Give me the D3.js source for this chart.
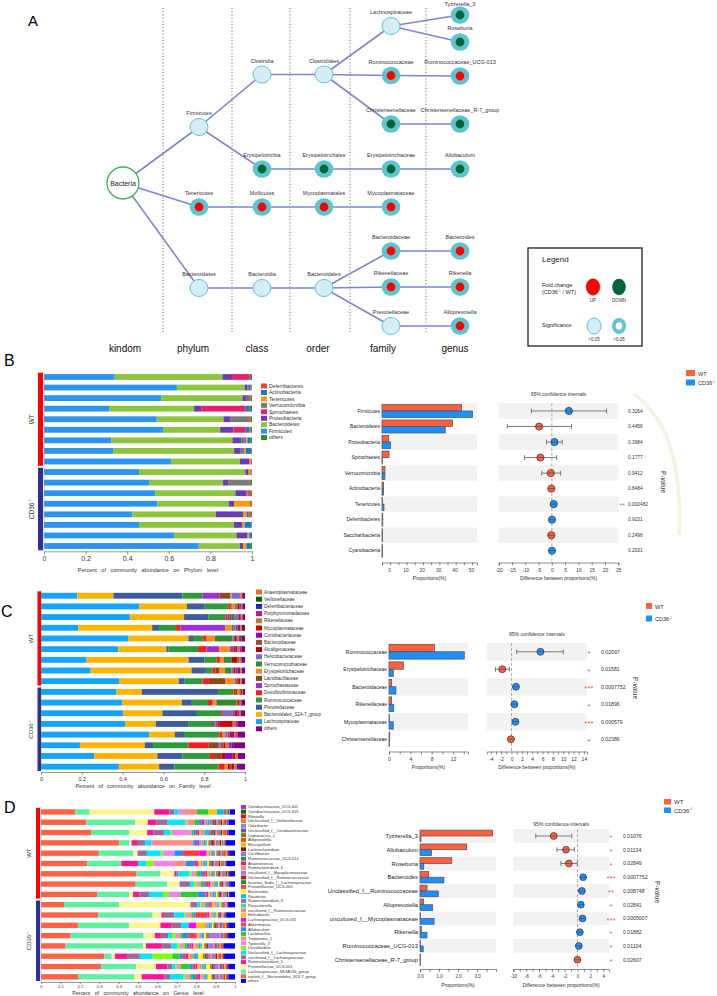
<!DOCTYPE html>
<html><head><meta charset="utf-8">
<script src="https://cdn.jsdelivr.net/npm/d3@7"></script>
<style>body{margin:0;background:#fff}svg{display:block;font-family:"Liberation Sans",Arial,Helvetica,sans-serif}</style>
</head><body><svg id="c" width="717" height="996"></svg>
<script>
// ---------------- DATA ----------------
// Panel A : taxonomy tree
const treeLevels = ["kindom","phylum","class","order","family","genus"];
const treeNames = ["Bacteria","Firmicutes","Tenericutes","Bacteroidetes","Clostridia","Erysipelotrichia","Mollicutes","Bacteroidia",
  "Clostridiales","Erysipelotrichales","Mycoplasmatales","Bacteroidales","Lachnospiraceae","Ruminococcaceae","Christensenellaceae",
  "Erysipelotrichaceae","Mycoplasmataceae","Bacteroidaceae","Rikenellaceae","Prevotellaceae","Tyzzerella_3","Roseburia",
  "Ruminococcaceae_UCG-013","Christensenellaceae_R-7_group","Allobaculum","Bacteroides","Rikenella","Alloprevotella"];
const treeLevel = [0,1,1,1,2,2,2,2,3,3,3,3,4,4,4,4,4,4,4,4,5,5,5,5,5,5,5,5];
const treeRow = [18.3,12.7,20.7,28.8,7.45,16.9,20.7,28.8,7.45,16.9,20.7,28.8,2.6,7.55,12.4,16.9,20.7,25.1,28.7,32.6,1.5,4.2,7.6,12.4,16.9,25.1,28.7,32.6];
const treeParent = [-1,0,0,0,1,1,2,3,4,5,6,7,8,8,8,9,10,11,11,11,12,12,13,14,15,17,18,19];
const treeState = ["root","ns","up","ns","ns","down","up","ns","ns","down","up","ns","ns","up","down","down","up","up","up","ns","down","down","up","down","down","up","up","up"];

// Panel B : phylum level
const phylumNames = ["Firmicutes","Bacteroidetes","Proteobacteria","Spirochaetes","Verrucomicrobia","Tenericutes","Actinobacteria","Deferribacteres","others"];
const phylumColors = ["#2a94ee","#8cc63f","#6a3bb3","#e8226a","#7a7a7a","#ff9a00","#1479c9","#f2453a","#2e8b3a"];
const phylumRows = [
 [.340,.518,.046,.082,0,0,0,.004,.010],
 [.639,.326,.014,0,.006,0,.008,.004,.003],
 [.565,.389,.019,0,0,0,.008,.012,.007],
 [.313,.409,.034,.214,0,0,.018,0,.012],
 [.542,.321,.035,0,.088,0,0,.008,.006],
 [.572,.275,.064,.059,0,0,.018,.006,.006],
 [.323,.583,.044,0,.023,.005,.014,0,.008],
 [.332,.582,.032,0,.019,.006,.025,.004,0],
 [.610,.331,.048,0,0,.005,0,.006,0],
 [.457,.511,.016,0,0,.008,0,.005,.003],
 [.508,.353,.024,0,.101,0,0,.006,.008],
 [.535,.385,.053,0,0,0,.005,.018,.004],
 [.545,.343,.026,0,0,.075,0,.007,.004],
 [.425,.401,.131,0,0,.017,.010,.012,.004],
 [.457,.455,.043,0,0,.010,.032,0,.003],
 [.626,.299,.054,0,0,.008,.008,0,.005],
 [.744,.197,.017,0,0,.015,.018,0,.009]];
const bCats = ["Firmicutes","Bacteroidetes","Proteobacteria","Spirochaetes","Verrucomicrobia","Actinobacteria","Tenericutes","Deferribacteres","Saccharibacteria","Cyanobacteria"];
const bWT = [48.6,43.1,4.1,4.3,1.8,1.0,0.3,0.5,0.3,0.2];
const bCD = [55.3,38.6,5.3,0.2,1.8,1.0,1.2,0.5,0.3,0.2];
const bDiff = [6.4,-4.8,1.0,-4.3,-0.4,-0.2,0.7,0.05,-0.2,0.05];
const bLo = [-7.7,-16.8,-2.0,-10.3,-3.8,-0.7,0.2,-0.3,-0.6,-0.2];
const bHi = [20.6,7.4,3.9,1.8,3.3,0.3,1.2,0.4,0.2,0.3];
const bP = ["0.3264","0.4456","0.3984","0.1777","0.9412","0.8484","0.002482","0.9231","0.2496","0.2031"];
const bStars = ["","","","","","","**","","",""];

// Panel C : family level
const familyNames = ["Lachnospiraceae","Bacteroidales_S24-7_group","Prevotellaceae","Ruminococcaceae","Desulfovibrionaceae","Spirochaetaceae",
  "Lactobacillaceae","Erysipelotrichaceae","Verrucomicrobiaceae","Helicobacteraceae","Alcaligenaceae","Bacteroidaceae","Coriobacteriaceae",
  "Mycoplasmataceae","Rikenellaceae","Porphyromonadaceae","Deferribacteraceae","Veillonellaceae","Anaeroplasmataceae","others"];
const familyColors = ["#12a4ff","#ffb400","#3e5b9c","#2f9a3c","#ff1a1a","#9b30d9","#8b4a1c","#ff8c1a","#2a8c2a","#7b68d8",
  "#b80000","#a0522d","#9400d3","#d40000","#c8742e","#c71585","#2424c8","#006400","#e07030","#800080"];
const familyRows = [
 [.177,.177,.338,.098,0,.084,.052,.005,0,.038,0,.005,0,0,.008,.005,0,0,0,.010],
 [.484,.233,.087,.116,.012,0,.005,.015,.005,.008,.008,.005,.004,0,.005,.003,0,0,0,.012],
 [.435,.265,.120,.083,.010,.008,.012,0,.015,.012,0,.008,.008,.005,.005,0,0,0,0,.012],
 [.180,.360,.033,.083,.022,.216,0,.032,.010,.010,0,.008,.008,.006,.008,0,0,0,0,.015],
 [.429,.294,.022,.050,.017,0,0,.041,.085,.010,.008,.008,0,0,.006,.006,0,.006,0,.018],
 [.376,.233,.011,.143,.041,.062,0,.049,0,.008,0,.012,.010,.008,.012,.008,0,0,0,.018],
 [.224,.499,.077,.061,.016,0,0,.020,.038,0,.027,.010,0,0,.010,0,0,0,0,.018],
 [.242,.493,.070,.033,.015,0,.019,.027,.031,.010,.010,.008,.015,0,.008,0,0,0,0,.015],
 [.380,.291,.029,.087,.031,0,.081,.044,0,.008,0,.010,0,.010,.008,0,0,0,0,.015],
 [.370,.124,.373,.076,.008,0,.012,.008,0,0,0,.008,0,.005,.005,0,0,0,0,.010],
 [.396,.293,.049,.079,.023,0,0,.018,.098,0,0,.008,0,.008,.008,0,0,0,0,.018],
 [.399,.192,.168,.118,.008,0,0,0,0,.046,0,.012,.012,.008,.010,0,0,0,0,.020],
 [.411,.150,.162,.105,0,0,.008,0,.010,.008,0,.010,.008,.066,.015,.010,0,0,0,.035],
 [.527,.124,.045,.173,.015,0,0,.012,0,.012,0,.010,.012,.010,.010,.008,0,0,0,.035],
 [.190,.317,.040,.173,.097,0,.047,0,0,.012,0,.015,0,.010,.015,.015,.010,0,0,.055],
 [.259,.309,.123,.134,.020,0,.036,0,0,0,.018,0,.035,.015,.012,0,0,0,0,.035],
 [.381,.197,.075,.216,.030,0,0,.015,0,0,.010,.010,0,.012,.012,0,.010,0,0,.030]];
const cCats = ["Ruminococcaceae","Erysipelotrichaceae","Bacteroidaceae","Rikenellaceae","Mycoplasmataceae","Christensenellaceae"];
const cWT = [8.5,2.7,0.5,0.5,0.1,0.15];
const cCD = [14.1,0.8,1.3,0.9,0.8,0.05];
const cDiff = [5.6,-1.8,0.85,0.55,0.75,-0.1];
const cLo = [1.0,-3.1,0.6,0.3,0.5,-0.2];
const cHi = [10.0,-0.4,1.1,0.8,1.0,0.0];
const cP = ["0.02097","0.01581","0.0007752","0.01896","0.000579","0.02386"];
const cStars = ["*","*","***","*","***","*"];

// Panel D : genus level
const genusNames = ["norank_f__Bacteroidales_S24-7_group","Lachnospiraceae_NK4A136_group","Prevotellaceae_UCG-001","Ruminiclostridium_5",
 "uncultured_f__Lachnospiraceae","Unclassified_f__Lachnospiraceae","Desulfovibrio","Tyzzerella_3","Treponema_2","Lactobacillus","Allobaculum",
 "Akkermansia","Lachnospiraceae_UCG-001","Helicobacter","uncultured_f__Ruminococcaceae","Parasutterella","Ruminiclostridium_9","Roseburia",
 "Bacteroides","Prevotellaceae_UCG-003","Incertae_Sedis_f__Lachnospiraceae","Unclassified_f__Ruminococcaceae","uncultured_f__Mycoplasmataceae",
 "Ruminiclostridium_6","Anaerotruncus","Ruminococcaceae_UCG-014","Oscillibacter","Lachnoclostridium","Mucispirillum","Alloprevotella",
 "Coprococcus_1","Unclassified_f__Coriobacteriaceae","Odoribacter","Unclassified_f__Veillonellaceae","Rikenella","Coriobacteriaceae_UCG-003",
 "Coriobacteriaceae_UCG-002","others"];
const genusColors = ["#ff6347","#5df0a0","#fff68f","#ff1493","#9a6b9a","#00e5ff","#7fff00","#ee82ee","#ff8a80","#2ecc2e","#1e90ff",
 "#ff3b3b","#ff00ff","#ffc400","#ff7f7f","#3ddc84","#9370db","#00bfff","#ffff00","#ff4040","#1f8f3a","#b22222","#9f79ee","#ff8c69",
 "#ff1493","#2e8b57","#8a7be0","#8b1a1a","#ffb000","#ff4500","#5a8f00","#8b4789","#6495ed","#ff7f27","#ff0000","#006400","#9b30ff","#0000ff"];
const genusRows = [
 [.176,.074,.332,.079,.024,.022,0,.022,.072,.060,0,0,0,.043,0,0,0,.034,0,.004,.004,.004,0,.004,.004,.004,0,.004,.004,0,0,0,0,0,0,0,0,.027],
 [.233,.252,.065,.044,.058,.089,.008,.010,.030,.025,.012,0,.015,0,.008,.008,.010,.010,0,.008,.008,.008,0,.008,.006,.006,.006,.006,.006,.008,0,.006,.006,0,.006,0,0,.034],
 [.262,.197,.091,.032,.057,.031,.008,.092,.010,.012,.010,.008,.010,.010,.010,.008,.008,.020,0,.010,.008,.008,.006,.006,.006,.006,.006,.006,.006,.008,0,.006,0,.006,.006,0,0,.035],
 [.402,.053,.009,.033,.036,.032,0,.015,.201,0,.020,0,.010,0,.012,.010,.010,.008,.008,.010,.008,.010,.006,.006,.006,.006,.006,.006,.006,.006,0,0,.006,0,.006,0,0,.048],
 [.298,.178,.021,0,.048,.071,.014,.057,0,0,.044,.084,.038,.010,.010,.008,.008,.008,.006,.006,.006,.006,.006,.006,.006,.006,0,.006,.006,.006,0,0,0,0,.006,0,0,.030],
 [.236,.175,0,.086,0,.042,.040,.103,.059,0,.043,.010,.010,.012,.010,.008,.008,.010,.008,.008,.006,.006,.006,.006,.006,.006,.006,.006,.006,.006,.004,.004,.004,.004,.004,0,0,.045],
 [.497,.125,.072,.010,.012,.056,.012,.015,.010,.020,.015,.012,.008,.010,.008,.008,.008,.008,.006,.008,.006,.006,.006,.006,.006,.006,.006,.006,.006,0,0,0,0,0,.006,0,0,.030],
 [.493,.163,.065,0,.055,.020,.015,.012,.010,.015,.010,.015,.010,.008,.008,.008,.008,.008,.006,.008,.006,.006,.006,.006,.006,.006,.006,.006,0,0,0,0,0,0,0,0,0,.025],
 [.291,.164,.021,.034,.048,.072,.031,.063,0,.086,.039,.008,.008,.008,.008,.008,.008,.008,.008,.006,.006,.006,.006,.006,.006,.006,.006,.006,.006,0,0,0,0,0,0,0,0,.030],
 [.120,.288,.373,0,.037,.015,.008,.010,.008,.010,.008,.008,.008,.015,.008,.006,.006,.006,.008,.006,.006,.006,.006,.006,.006,0,0,0,0,0,0,0,0,0,0,0,0,.036],
 [.291,.274,.045,.012,.053,.049,.010,.012,.015,.010,.012,.060,.010,.008,.008,.008,.006,.006,.006,.006,.006,.006,.006,.006,.006,.006,0,0,0,0,0,0,0,0,0,0,0,.045],
 [.190,.264,.161,.058,.051,.036,0,0,0,0,0,0,.041,.043,.010,.010,.008,.008,.008,.008,.008,.006,.006,.006,.006,.006,.006,.006,.006,.006,0,0,0,0,.006,0,0,.035],
 [.151,.371,.057,.031,.037,.020,.020,.015,.010,.010,.030,.030,.010,.008,.008,.008,.008,.006,.010,.006,.006,.006,.052,.006,.006,.006,.006,.006,0,.006,0,0,0,0,.006,0,0,.035],
 [.128,.403,.014,.085,.046,.030,.015,.015,.010,.012,.012,.012,.010,.010,.010,.008,.008,.008,.012,.008,.006,.006,.030,.006,.006,.006,.006,.006,.006,.008,0,0,0,0,.006,0,0,.060],
 [.318,.038,.017,.060,.065,.064,.099,0,0,.038,.015,.015,.012,.010,.010,.010,.010,.010,.025,.008,.008,.008,.015,.008,.006,.006,.006,.006,.006,.015,0,0,.006,0,.008,0,0,.055],
 [.313,.180,.103,.060,.026,.015,.010,.010,.010,.045,.015,.015,.010,.010,.010,.010,.008,.008,.020,.008,.008,.008,.020,.006,.006,.006,.006,.006,.006,.008,0,0,0,0,.006,0,0,.035],
 [.197,.293,.037,.120,.029,.071,.012,.012,.010,.015,.015,.012,.010,.008,.008,.008,.008,.008,.020,.008,.006,.006,.020,.006,.006,.006,.006,.006,.006,.006,0,0,0,0,.006,0,0,.035]];
const dCats = ["Tyzzerella_3","Allobaculum","Roseburia","Bacteroides","Unclassified_f__Ruminococcaceae","Alloprevotella",
 "uncultured_f__Mycoplasmataceae","Rikenella","Ruminococcaceae_UCG-013","Christensenellaceae_R-7_group"];
const dWT = [3.82,2.46,1.67,0.46,0.37,0.19,0.0,0.07,0.02,0.03];
const dCD = [0.05,0.61,0.2,1.26,0.96,0.67,0.74,0.37,0.17,0.01];
const dDiff = [-3.7,-1.8,-1.35,0.88,0.67,0.52,0.78,0.36,0.2,-0.02];
const dLo = [-6.5,-3.2,-2.6,0.6,0.4,0.3,0.5,0.2,0.08,-0.08];
const dHi = [-0.9,-0.5,-0.05,1.15,0.95,0.75,1.05,0.5,0.3,0.04];
const dP = ["0.01076","0.01134","0.02849","0.0007752","0.008748","0.02841","0.0005007","0.01882","0.01104","0.02607"];
const dStars = ["*","*","*","***","**","*","***","*","*","*"];

const groupNames = ["WT","CD36"];
const groupSizes = [9,8];

// ---------------- DRAWING ----------------
const svg = d3.select("#c");
const WTC = "#ff5f3f", CDC = "#1e8fff";

function txt(x,y,s,fs,anchor,fill){
  return svg.append("text").attr("x",x).attr("y",y).attr("font-size",fs)
    .attr("text-anchor",anchor||"start").attr("fill",fill||"#222").text(s);
}
function cdLabel(t, fs, after){
  t.text(null);
  t.append("tspan").text("CD36");
  t.append("tspan").attr("font-size",fs*0.6).attr("dy",-fs*0.4).text("-/-");
  if(after) t.append("tspan").attr("font-size",fs).attr("dy",fs*0.4).text(after);
  return t;
}

// panel letters
txt(28,26,"A",15,"start","#000");
txt(4,366,"B",16,"start","#000");
txt(1,617,"C",16,"start","#000");
txt(4,813,"D",16,"start","#000");

// ---------- Panel A ----------
(function(){
  const lx = d3.scaleOrdinal().domain(treeLevels).range([123,199,262,324,391,460]);
  const ly = d3.scaleLinear().domain([0,33]).range([0,330]);
  const seps = [163,232,290,350,426];
  seps.forEach(x=>svg.append("line").attr("x1",x).attr("x2",x).attr("y1",8).attr("y2",332)
    .attr("stroke","#555").attr("stroke-width",0.9).attr("stroke-dasharray","1,2.2"));
  const labX = [125,193,257,318,383,455];
  treeLevels.forEach((l,i)=>txt(labX[i],352,l,10,"middle","#111"));
  const P = i => [lx(treeLevels[treeLevel[i]]), ly(treeRow[i])];
  const eg = svg.append("g");
  treeNames.forEach((n,i)=>{
    if(treeParent[i]<0) return;
    const a=P(treeParent[i]), b=P(i);
    eg.append("line").attr("x1",a[0]).attr("y1",a[1]).attr("x2",b[0]).attr("y2",b[1])
      .attr("stroke","#7f86cb").attr("stroke-width",1.6);
  });
  const ng = svg.append("g");
  treeNames.forEach((n,i)=>{
    const [x,y]=P(i), s=treeState[i];
    if(s==="root"){
      ng.append("circle").attr("cx",x).attr("cy",y).attr("r",16).attr("fill","#fff").attr("stroke","#3cb44b").attr("stroke-width",1.3);
      ng.append("text").attr("x",x).attr("y",y+2.5).attr("font-size",7).attr("text-anchor","middle").attr("fill","#222").text(n);
      return;
    }
    if(s==="ns"){
      ng.append("ellipse").attr("cx",x).attr("cy",y).attr("rx",9).attr("ry",8.5).attr("fill","#d6ecf7").attr("stroke","#5ec6d1").attr("stroke-width",1);
    } else {
      ng.append("ellipse").attr("cx",x).attr("cy",y).attr("rx",9.3).attr("ry",8.8).attr("fill","#5ec5cf");
      ng.append("circle").attr("cx",x).attr("cy",y).attr("r",4.4).attr("fill",s==="up"?"#ff0000":"#00663a");
    }
    ng.append("text").attr("x",x).attr("y",Math.max(6,y-12)).attr("font-size",5.5).attr("text-anchor","middle").attr("fill","#333").text(n);
  });
  // legend
  svg.append("rect").attr("x",528).attr("y",248).attr("width",114).attr("height",98).attr("fill","#fff").attr("stroke","#222").attr("stroke-width",1.3);
  txt(542,262,"Legend",8,"start","#222");
  txt(542,287,"Fold change",5.5,"start","#222");
  cdLabel(txt(542,294,"",5.5,"start","#222"),5.5," / WT)").insert("tspan",":first-child").text("(");
  svg.append("ellipse").attr("cx",593).attr("cy",287).attr("rx",6.8).attr("ry",8.2).attr("fill","#ff0000").attr("stroke","#b00").attr("stroke-width",0.5);
  svg.append("ellipse").attr("cx",619).attr("cy",287).attr("rx",6.8).attr("ry",8.2).attr("fill","#00663a");
  txt(593,302,"UP",4.5,"middle","#333"); txt(619,302,"DOWN",4.5,"middle","#333");
  txt(542,327,"Significance",5.5,"start","#222");
  svg.append("ellipse").attr("cx",594).attr("cy",326).attr("rx",7).attr("ry",8).attr("fill","#d6ecf7").attr("stroke","#5ec6d1").attr("stroke-width",1);
  svg.append("ellipse").attr("cx",619).attr("cy",326).attr("rx",7).attr("ry",8).attr("fill","#5ec5cf");
  svg.append("ellipse").attr("cx",619).attr("cy",326).attr("rx",3.3).attr("ry",3.8).attr("fill","#fff");
  txt(594,341,">0.05",4.5,"middle","#333"); txt(619,341,"<0.05",4.5,"middle","#333");
})();

// ---------- stacked bar panels ----------
function stackPanel(o){
  const g = svg.append("g");
  const x = d3.scaleLinear().domain([0,1]).range([o.x0,o.x1]);
  const n = o.rows.length;
  const y = d3.scaleBand().domain(d3.range(n)).range([o.yTop,o.yBot]).paddingInner(o.pad).paddingOuter(o.pad/2);
  const keys = d3.range(o.names.length);
  const table = o.rows.map(r=>{const t=d3.sum(r); const ob={}; keys.forEach(k=>ob[k]=r[k]/t); return ob;});
  const series = d3.stack().keys(keys)(table);
  g.selectAll("g.s").data(series).join("g").attr("fill",(d,i)=>o.colors[i])
    .selectAll("rect").data(d=>d).join("rect")
    .attr("x",d=>x(d[0])).attr("y",(d,i)=>y(i)).attr("width",d=>Math.max(0,x(d[1])-x(d[0]))).attr("height",y.bandwidth());
  g.append("line").attr("x1",o.x0).attr("x2",o.x0).attr("y1",o.yTop).attr("y2",o.yBot).attr("stroke","#999").attr("stroke-width",0.6);
  const ax = d3.axisBottom(x).tickValues(o.ticks).tickSize(o.tSize).tickPadding(o.tPad).tickSizeOuter(0)
    .tickFormat(d=> d===0?"0": d===1?"1": d3.format(".1f")(d));
  const ag = g.append("g").attr("transform",`translate(0,${o.yBot})`).call(ax);
  ag.attr("font-size",o.tickFs).attr("font-family",null);
  ag.selectAll("path,line").attr("stroke","#555").attr("stroke-width",0.6);
  ag.selectAll("text").attr("fill","#333");
  txt((o.x0+o.x1)/2, o.titleY, o.title, o.titleFs, "middle","#333").attr("word-spacing",o.ws);
  const step = y.step();
  const mid = o.yTop + groupSizes[0]*step;
  const gc = ["#ff0000","#2e3192"];
  const spans = [[o.yTop+1, mid-1],[mid+1, o.yBot-1]];
  spans.forEach((s,i)=>{
    g.append("rect").attr("x",o.gx).attr("y",s[0]).attr("width",o.gw).attr("height",s[1]-s[0]).attr("fill",gc[i]);
    const cy=(s[0]+s[1])/2;
    const t = g.append("text").attr("transform",`translate(${o.lx},${cy}) rotate(-90)`).attr("text-anchor","middle")
      .attr("font-size",o.gFs).attr("fill","#333");
    if(i===0) t.text(groupNames[0]); else cdLabel(t,o.gFs);
  });
  const order = d3.range(o.names.length-1).reverse().concat([o.names.length-1]);
  order.forEach((k,j)=>{
    const yy = o.leg.y + j*o.leg.dy;
    g.append("rect").attr("x",o.leg.x).attr("y",yy-o.leg.sh/2).attr("width",o.leg.sw).attr("height",o.leg.sh).attr("fill",o.colors[k]);
    g.append("text").attr("x",o.leg.x+o.leg.sw+2).attr("y",yy+o.leg.fs*0.35).attr("font-size",o.leg.fs).attr("fill","#333").text(o.names[k]);
  });
}

stackPanel({names:phylumNames,colors:phylumColors,rows:phylumRows,x0:44,x1:252,yTop:371.7,yBot:551.3,pad:0.45,
  ticks:[0,.2,.4,.6,.8,1],tickFs:7,tSize:3,tPad:2,title:"Percent of community abundance on Phylum level",titleY:572,titleFs:5.5,ws:3,
  gx:38,gw:5,lx:34,gFs:6.5,leg:{x:261,y:386,dy:6.45,sw:6,sh:5,fs:5}});
stackPanel({names:familyNames,colors:familyColors,rows:familyRows,x0:41,x1:245,yTop:590.4,yBot:772,pad:0.45,
  ticks:[0,.2,.4,.6,.8,1],tickFs:5.5,tSize:3,tPad:2,title:"Percent of community abundance on Family level",titleY:788,titleFs:5.5,ws:2.5,
  gx:37.5,gw:3.5,lx:33,gFs:6,leg:{x:256,y:592,dy:7.2,sw:6,sh:5,fs:4.6}});
stackPanel({names:genusNames,colors:genusColors,rows:genusRows,x0:41,x1:235,yTop:806.8,yBot:982,pad:0.48,
  ticks:d3.range(0,1.01,0.1).map(v=>+v.toFixed(1)),tickFs:4.2,tSize:2,tPad:1,title:"Percent of community abundance on Genus level",titleY:995,titleFs:5.2,ws:3,
  gx:36,gw:4,lx:31,gFs:6,leg:{x:241,y:807,dy:4.7,sw:5,sh:4,fs:3.9}});

// ---------- CI panels ----------
function ciPanel(o){
  const g = svg.append("g");
  const y = d3.scaleBand().domain(o.cats).range([o.yTop,o.yBot]);
  const bw = y.bandwidth();
  const xb = d3.scaleLinear().domain(o.bDom).range([o.bx0,o.bx1]);
  const xc = d3.scaleLinear().domain(o.cDom).range([o.cx0,o.cx1]);
  o.cats.forEach((c,i)=>{ if(i%2===0){
    g.append("rect").attr("x",o.bx0).attr("y",y(c)).attr("width",o.bx1-o.bx0).attr("height",bw).attr("fill","#f2f2f2");
    g.append("rect").attr("x",o.cx0).attr("y",y(c)).attr("width",o.cx1-o.cx0).attr("height",bw).attr("fill","#f2f2f2");
  }});
  g.selectAll("rect.wt").data(o.cats).join("rect").attr("x",xb(0)).attr("y",c=>y(c)+bw*0.08)
    .attr("width",(c,i)=>Math.max(0.6,xb(o.wt[i])-xb(0))).attr("height",bw*0.42).attr("fill",WTC).attr("stroke","#505050").attr("stroke-width",0.7);
  g.selectAll("rect.cd").data(o.cats).join("rect").attr("x",xb(0)).attr("y",c=>y(c)+bw*0.5)
    .attr("width",(c,i)=>Math.max(0.6,xb(o.cd[i])-xb(0))).attr("height",bw*0.42).attr("fill",CDC).attr("stroke","#505050").attr("stroke-width",0.7);
  o.cats.forEach(c=>g.append("text").attr("x",o.bx0-2).attr("y",y(c)+bw/2+o.catFs*0.35).attr("text-anchor","end")
    .attr("font-size",o.catFs).attr("fill","#222").text(c));
  function styleAxis(ag,fs){
    ag.attr("font-size",fs).attr("font-family",null);
    ag.selectAll("path,line").attr("stroke","#444").attr("stroke-width",0.6);
    ag.selectAll("text").attr("fill","#333");
  }
  const axb = d3.axisBottom(xb).tickValues(o.bTicks).tickSize(3).tickSizeOuter(3).tickFormat(o.bFmt);
  const agb = g.append("g").attr("transform",`translate(0,${o.axisY})`).call(axb); styleAxis(agb,o.tickFs);
  if(o.bDx) agb.selectAll("text").attr("dx",o.bDx);
  const axc = d3.axisBottom(xc).tickValues(o.cTicks).tickSize(3).tickSizeOuter(3).tickFormat(o.cFmt);
  const agc = g.append("g").attr("transform",`translate(0,${o.axisY})`).call(axc); styleAxis(agc,o.tickFs);
  txt((o.bx0+o.bx1)/2, o.titleY, "Proportions(%)", o.titleFs, "middle", "#333");
  txt((o.cx0+o.cx1)/2, o.titleY, "Difference between proportions(%)", o.titleFs, "middle", "#333");
  txt((o.cx0+o.cx1)/2, o.yTop-o.ciTitleGap, "95% confidence intervals", o.titleFs, "middle", "#333");
  g.append("line").attr("x1",xc(0)).attr("x2",xc(0)).attr("y1",o.yTop).attr("y2",o.axisY).attr("stroke","#999").attr("stroke-width",0.8).attr("stroke-dasharray","3,2");
  o.cats.forEach((c,i)=>{
    const cy = y(c)+bw/2;
    const l = xc(o.lo[i]), h = xc(o.hi[i]);
    g.append("line").attr("x1",l).attr("x2",h).attr("y1",cy).attr("y2",cy).attr("stroke","#6e6e6e").attr("stroke-width",0.9);
    [l,h].forEach(xx=>g.append("line").attr("x1",xx).attr("x2",xx).attr("y1",cy-2.4).attr("y2",cy+2.4).attr("stroke","#6e6e6e").attr("stroke-width",0.9));
    g.append("circle").attr("cx",xc(o.diff[i])).attr("cy",cy).attr("r",o.pr).attr("fill",o.diff[i]>0?CDC:WTC)
      .attr("stroke","#333").attr("stroke-width",0.7);
    g.append("line").attr("x1",xc(o.diff[i])-o.pr).attr("x2",xc(o.diff[i])+o.pr).attr("y1",cy).attr("y2",cy).attr("stroke","#333").attr("stroke-width",0.5);
    if(o.stars[i]) g.append("text").attr("x",o.starX).attr("y",cy+o.starFs*0.55).attr("text-anchor",o.starAnchor)
      .attr("font-size",o.starFs).attr("fill","#ff5a5a").text(o.stars[i]);
    g.append("text").attr("x",o.pX).attr("y",cy+o.pFs*0.35).attr("font-size",o.pFs).attr("fill","#333").text(o.p[i]);
  });
  g.append("text").attr("transform",`translate(${o.pvX},${o.pvY}) rotate(90)`).attr("text-anchor","middle")
    .attr("font-size",o.pvFs).attr("fill","#333").text("P-value");
  const L=o.leg;
  g.append("rect").attr("x",L.x).attr("y",L.y).attr("width",L.w).attr("height",L.h).attr("fill",WTC);
  g.append("rect").attr("x",L.x).attr("y",L.y+L.dy).attr("width",L.w).attr("height",L.h).attr("fill",CDC);
  g.append("text").attr("x",L.x+L.w+3).attr("y",L.y+L.h-0.5).attr("font-size",L.fs).attr("fill","#333").text(groupNames[0]);
  cdLabel(g.append("text").attr("x",L.x+L.w+3).attr("y",L.y+L.dy+L.h-0.5).attr("font-size",L.fs).attr("fill","#333"),L.fs);
}

ciPanel({cats:bCats,wt:bWT,cd:bCD,diff:bDiff,lo:bLo,hi:bHi,p:bP,stars:bStars,
  yTop:403.2,yBot:558.5,bx0:382,bx1:477,bDom:[0,58],bTicks:d3.range(0,56,5),bFmt:d=>d%10===0?d:"",bDx:7,
  cx0:498.7,cx1:618.3,cDom:[-20,25],cTicks:d3.range(-20,26,5),cFmt:d=>d,
  axisY:562.5,tickFs:4.8,titleY:580,titleFs:5,ciTitleGap:7,catFs:4.9,pr:3.6,
  starX:625,starAnchor:"end",starFs:7,pX:628,pFs:4.8,pvX:661,pvY:482,pvFs:6.5,
  leg:{x:686,y:370,w:9,h:6,dy:9.5,fs:5.5}});
svg.append("path").attr("d","M634,394 Q684,430 679,535").attr("fill","none").attr("stroke","#f3f4e2").attr("stroke-width",3.5);

ciPanel({cats:cCats,wt:cWT,cd:cCD,diff:cDiff,lo:cLo,hi:cHi,p:cP,stars:cStars,
  yTop:643,yBot:748,bx0:389,bx1:468,bDom:[0,14.8],bTicks:d3.range(0,15,2),bFmt:d=>d%4===0?d:"",
  cx0:486.7,cx1:587,cDom:[-4.8,14.6],cTicks:d3.range(-4,15,1),cFmt:d=>d%2===0?d:"",
  axisY:751.5,tickFs:5,titleY:769,titleFs:5,ciTitleGap:7.5,catFs:5,pr:3.5,
  starX:589,starAnchor:"middle",starFs:8,pX:601,pFs:5.2,pvX:633,pvY:688,pvFs:6.5,
  leg:{x:646,y:603,w:6,h:6,dy:12.5,fs:5.5}});

ciPanel({cats:dCats,wt:dWT,cd:dCD,diff:dDiff,lo:dLo,hi:dHi,p:dP,stars:dStars,
  yTop:829.1,yBot:966.6,bx0:420,bx1:496,bDom:[0,4.0],bTicks:d3.range(0,4,0.5),bFmt:d=>Number.isInteger(d)?d.toFixed(1):"",
  cx0:513.3,cx1:609,cDom:[-10,4.9],cTicks:d3.range(-10,5,1),cFmt:d=>d%2===0?d:"",
  axisY:969,tickFs:4.5,titleY:987,titleFs:5,ciTitleGap:3,catFs:5.8,pr:3.4,
  starX:611,starAnchor:"middle",starFs:7.5,pX:623,pFs:5.2,pvX:655,pvY:892,pvFs:6.5,
  leg:{x:664,y:799,w:7,h:5.5,dy:8.5,fs:6}});
</script>
</body></html>
